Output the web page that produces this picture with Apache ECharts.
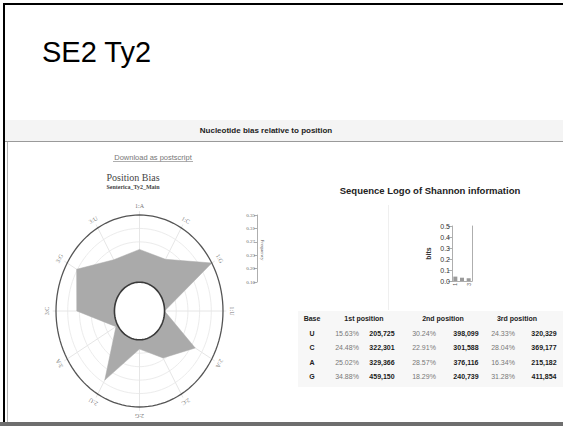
<!DOCTYPE html>
<html>
<head>
<meta charset="utf-8">
<script src="https://cdn.jsdelivr.net/npm/echarts/dist/echarts.min.js"></script>
<style>
  html, body { margin: 0; padding: 0; background: #fff; }
  #chart { width: 563px; height: 426px; }
</style>
</head>
<body>
<div id="chart"></div>
<script>
// ---- data ----
const slideTitle = 'SE2 Ty2';
const bases = ['U', 'C', 'A', 'G'];
const positionNames = ['1st position', '2nd position', '3rd position'];
const pctPos1 = [15.63, 24.48, 25.02, 34.88];
const pctPos2 = [30.24, 22.91, 28.57, 18.29];
const pctPos3 = [24.33, 28.04, 16.34, 31.28];
const countPos1 = [205725, 322301, 329366, 459150];
const countPos2 = [398099, 301588, 376116, 240739];
const countPos3 = [320329, 369177, 215182, 411854];
const spokeBases = ['A', 'C', 'G', 'U'];           // clockwise order inside each position
const freqTicks = ['0.16', '0.20', '0.23', '0.27', '0.31', '0.35'];
const logoPositions = ['1', '2', '3'];
const logoBits = [0.04, 0.03, 0.025];

// ---- derived structures ----
const pctByPos = [pctPos1, pctPos2, pctPos3];
const countByPos = [countPos1, countPos2, countPos3];
const spokeLabels = [];
const spokeValues = [];
pctByPos.forEach((arr, p) => {
  spokeBases.forEach(b => {
    spokeLabels.push((p + 1) + ':' + b);
    spokeValues.push(arr[bases.indexOf(b)] / 100);
  });
});
const allFreq = [].concat(pctPos1, pctPos2, pctPos3).map(v => v / 100);
const FMIN = Math.min.apply(null, allFreq);
const FMAX = Math.max.apply(null, allFreq);
const HOLE = 0.3;
const N = spokeLabels.length;
const ringLevels = [0.44, 0.58, 0.72, 0.86];

function radial(v) { return HOLE + (1 - HOLE) * (v - FMIN) / (FMAX - FMIN); }
function angle(i) { return i * 2 * Math.PI / N; }
function ellipsePts(api, r) {
  const pts = [];
  for (let k = 0; k < 120; k++) {
    const t = k * 2 * Math.PI / 120;
    pts.push(api.coord([r * Math.sin(t), r * Math.cos(t)]));
  }
  return pts;
}
function fmtCount(n) { return n.toLocaleString('en-US'); }

const SANS = 'Liberation Sans, Arial, Helvetica, sans-serif';
const SERIF = 'Liberation Serif, Times New Roman, serif';

function txt(x, y, text, font, fill, align, extra) {
  return Object.assign({
    type: 'text', x: x, y: y, silent: true,
    style: { text: text, font: font, fill: fill, textAlign: align || 'center', textVerticalAlign: 'middle' }
  }, extra || {});
}

// ---- page furniture ----
const graphics = [
  { type: 'rect', shape: { x: 3, y: 3, width: 560, height: 2 }, style: { fill: '#000' }, silent: true },
  { type: 'rect', shape: { x: 3, y: 3, width: 2, height: 423 }, style: { fill: '#000' }, silent: true },
  { type: 'rect', shape: { x: 5, y: 120, width: 558, height: 21 }, style: { fill: '#f4f4f4' }, silent: true },
  { type: 'line', shape: { x1: 5, y1: 141.5, x2: 563, y2: 141.5 }, style: { stroke: '#9a9a9a', lineWidth: 1.2 }, silent: true },
  { type: 'line', shape: { x1: 7.5, y1: 142, x2: 7.5, y2: 422 }, style: { stroke: '#b5b5b5', lineWidth: 1 }, silent: true },
  { type: 'rect', shape: { x: 0, y: 422, width: 563, height: 4 }, style: { fill: '#6e6e6e' }, silent: true },
  { type: 'line', shape: { x1: 388.5, y1: 205, x2: 388.5, y2: 310 }, style: { stroke: '#efefef', lineWidth: 1 }, silent: true },
  { type: 'rect', shape: { x: 298, y: 311, width: 265, height: 76 }, style: { fill: '#f7f7f7' }, silent: true },

  txt(42, 52, slideTitle, '29px ' + SANS, '#000', 'left'),
  txt(266, 130, 'Nucleotide bias relative to position', 'bold 8px ' + SANS, '#222'),
  txt(153, 157, 'Download as postscript', '7.5px ' + SANS, '#777'),
  { type: 'line', shape: { x1: 113, y1: 161.5, x2: 193, y2: 161.5 }, style: { stroke: '#999', lineWidth: 0.8 }, silent: true },
  txt(133, 177, 'Position Bias', '10px ' + SERIF, '#444'),
  txt(133, 187, 'Senterica_Ty2_Main', 'bold 6px ' + SERIF, '#444'),
  txt(262, 250, 'Frequency', '5px ' + SERIF, '#555', 'center', { rotation: -Math.PI / 2 }),
  txt(430, 190, 'Sequence Logo of Shannon information', 'bold 9.5px ' + SANS, '#222')
];

// ---- composition table ----
const colX = { base: 312, pct: [347, 424, 503], cnt: [382, 466, 544] };
const headerX = [364, 443, 517];
const rowY = [333, 347, 362, 376];
graphics.push(txt(colX.base, 318, 'Base', 'bold 7px ' + SANS, '#222'));
positionNames.forEach((n, i) => graphics.push(txt(headerX[i], 318, n, 'bold 7px ' + SANS, '#222')));
bases.forEach((b, r) => {
  graphics.push(txt(colX.base, rowY[r], b, 'bold 7px ' + SANS, '#222'));
  for (let p = 0; p < 3; p++) {
    graphics.push(txt(colX.pct[p], rowY[r], pctByPos[p][r].toFixed(2) + '%', '7px ' + SANS, '#777'));
    graphics.push(txt(colX.cnt[p], rowY[r], fmtCount(countByPos[p][r]), 'bold 7px ' + SANS, '#1a1a1a'));
  }
});

const chart = echarts.init(document.getElementById('chart'), null, { renderer: 'svg' });

chart.setOption({
  backgroundColor: '#fff',
  animation: false,
  graphic: graphics,
  grid: [
    { left: 56, top: 215, width: 167, height: 192 },
    { left: 257, top: 215, width: 1, height: 67 },
    { left: 452, top: 226, width: 20, height: 55 }
  ],
  xAxis: [
    { gridIndex: 0, type: 'value', min: -1, max: 1, show: false },
    { gridIndex: 1, type: 'value', min: 0, max: 1, show: false },
    {
      gridIndex: 2, type: 'category', data: logoPositions,
      axisLine: { lineStyle: { color: '#999', width: 0.8 } },
      axisTick: { show: false },
      axisLabel: { fontSize: 5, color: '#555', rotate: 90, margin: 2, fontFamily: SANS }
    }
  ],
  yAxis: [
    { gridIndex: 0, type: 'value', min: -1, max: 1, show: false },
    {
      gridIndex: 1, type: 'value', min: 0, max: 5, interval: 1, position: 'left',
      axisLine: { show: true, lineStyle: { color: '#999', width: 0.8 } },
      axisTick: { show: true, length: 3, lineStyle: { color: '#999', width: 0.8 } },
      axisLabel: { fontSize: 5, color: '#666', margin: 2, fontFamily: SERIF, formatter: v => freqTicks[Math.round(v)] },
      splitLine: { show: false }
    },
    {
      gridIndex: 2, type: 'value', min: 0, max: 0.5, interval: 0.1, position: 'left',
      name: 'bits', nameLocation: 'middle', nameRotate: 90, nameGap: 20,
      nameTextStyle: { fontSize: 7, color: '#333', fontFamily: SANS, fontWeight: 'bold' },
      axisLine: { show: true, lineStyle: { color: '#999', width: 0.8 } },
      axisTick: { show: true, length: 4, lineStyle: { color: '#999', width: 0.8 } },
      axisLabel: { fontSize: 7, color: '#333', margin: 2, fontFamily: SANS, formatter: v => v.toFixed(1) },
      splitLine: { show: false }
    },
    {
      gridIndex: 2, type: 'value', min: 0, max: 0.5, position: 'right',
      axisLine: { show: true, lineStyle: { color: '#999', width: 0.8 } },
      axisTick: { show: false }, axisLabel: { show: false }, splitLine: { show: false }
    }
  ],
  series: [
    // concentric grid rings
    {
      type: 'custom', xAxisIndex: 0, yAxisIndex: 0, z: 1, silent: true,
      data: ringLevels.map(r => [r, 0]),
      renderItem: (params, api) => ({
        type: 'polygon', shape: { points: ellipsePts(api, api.value(0)) },
        style: { fill: 'none', stroke: '#ececec', lineWidth: 1 }
      })
    },
    // spokes
    {
      type: 'custom', xAxisIndex: 0, yAxisIndex: 0, z: 1, silent: true,
      data: spokeLabels.map((l, i) => [i, 0]),
      renderItem: (params, api) => {
        const t = angle(api.value(0));
        const a = api.coord([HOLE * Math.sin(t), HOLE * Math.cos(t)]);
        const b = api.coord([1.04 * Math.sin(t), 1.04 * Math.cos(t)]);
        return { type: 'line', shape: { x1: a[0], y1: a[1], x2: b[0], y2: b[1] }, style: { stroke: '#e6e6e6', lineWidth: 1 } };
      }
    },
    // nucleotide frequency polygon
    {
      type: 'custom', xAxisIndex: 0, yAxisIndex: 0, z: 2, silent: true,
      data: [spokeValues],
      renderItem: (params, api) => {
        const pts = [];
        for (let i = 0; i < N; i++) {
          const t = angle(i), r = radial(api.value(i));
          pts.push(api.coord([r * Math.sin(t), r * Math.cos(t)]));
        }
        return { type: 'polygon', shape: { points: pts }, style: { fill: '#aaaaaa', stroke: '#aaaaaa', lineWidth: 0.5 } };
      }
    },
    // outer boundary and centre hole
    {
      type: 'custom', xAxisIndex: 0, yAxisIndex: 0, z: 3, silent: true,
      data: [[1, 0], [HOLE, 1]],
      renderItem: (params, api) => {
        const isHole = api.value(1) === 1;
        return {
          type: 'polygon', shape: { points: ellipsePts(api, api.value(0)) },
          style: isHole ? { fill: '#fff', stroke: '#3a3a3a', lineWidth: 1.6 }
                        : { fill: 'none', stroke: '#555', lineWidth: 1.3 }
        };
      }
    },
    // spoke labels, rotated along each spoke
    {
      type: 'custom', xAxisIndex: 0, yAxisIndex: 0, z: 3, silent: true,
      data: spokeLabels.map((l, i) => [i, 0]),
      renderItem: (params, api) => {
        const i = api.value(0), t = angle(i);
        const p = api.coord([Math.sin(t), Math.cos(t)]);
        const off = 9;
        return {
          type: 'text', x: p[0] + off * Math.sin(t), y: p[1] - off * Math.cos(t), rotation: -t,
          style: { text: spokeLabels[i], font: '6px ' + SERIF, fill: '#777', textAlign: 'center', textVerticalAlign: 'middle' }
        };
      }
    },
    // sequence logo information content
    {
      type: 'bar', xAxisIndex: 2, yAxisIndex: 2, data: logoBits, barWidth: 4,
      itemStyle: { color: '#9a9a9a' }, silent: true
    }
  ]
});
</script>
</body>
</html>
